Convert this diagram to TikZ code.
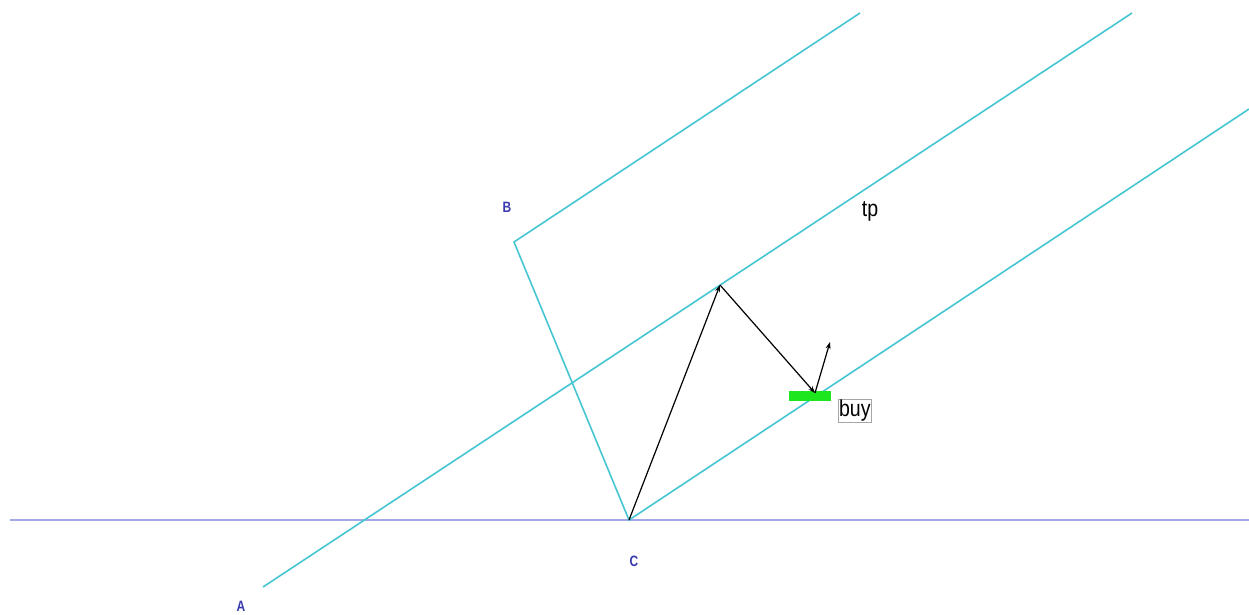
\documentclass[tikz,border=0pt]{standalone}
\usepackage{fontspec}
\setmainfont{Liberation Sans}
\usetikzlibrary{arrows.meta}
\definecolor{chan}{HTML}{45C6D2}
\definecolor{base}{HTML}{A4A8E6}
\definecolor{lbl}{HTML}{3A3AB0}
\definecolor{grn}{HTML}{1EE61E}
\tikzset{
  chanline/.style={draw=chan, line width=1.6pt},
  baseline/.style={draw=base, line width=1.1pt},
  move/.style={draw=black, line width=1.2pt, -{Stealth[length=7pt,width=5pt]}},
  ptlabel/.style={text=lbl, font=\fontsize{15}{16}\selectfont\bfseries, inner sep=0pt, xscale=0.8},
  biglabel/.style={font=\fontsize{23}{24}\selectfont, inner sep=1pt, xscale=0.85}
}
\begin{document}
\begin{tikzpicture}[x=1pt,y=-1pt]
\useasboundingbox (0,0) rectangle (1249,615);
\fill[white] (0,0) rectangle (1249,615);
% points
\coordinate (A) at (263,587);
\coordinate (B) at (514,242);
\coordinate (C) at (629,520);
\coordinate (Aend) at (1132,13);
\coordinate (Bend) at (860,13);
\coordinate (Cend) at (1249,109);
\coordinate (L) at (10,520);
\coordinate (R) at (1249,520);
\coordinate (P1) at (720,285);
\coordinate (P2) at (815,393);
\coordinate (P3) at (830,342);
% base line
\draw[baseline] (L) -- (R);
% channel
\draw[chanline] (A) -- (Aend);
\draw[chanline] (Bend) -- (B) -- (C) -- (Cend);
% green bar
\fill[grn] (789,391) rectangle (831,401);
% moves
\draw[move] (C) -- (P1);
\draw[move] (P1) -- (P2);
\draw[move] (P2) -- (P3);
% labels
\node[ptlabel] (la) at (241,606) {A};
\node[ptlabel] (lb) at (507,207) {B};
\node[ptlabel] (lc) at (634,561) {C};
\node[biglabel] (tp) at (870,211) {tp};
\node[biglabel, draw=gray!70, line width=0.5pt, inner sep=1pt, anchor=north west] (buy) at (838,399) {buy};
\end{tikzpicture}
\end{document}
